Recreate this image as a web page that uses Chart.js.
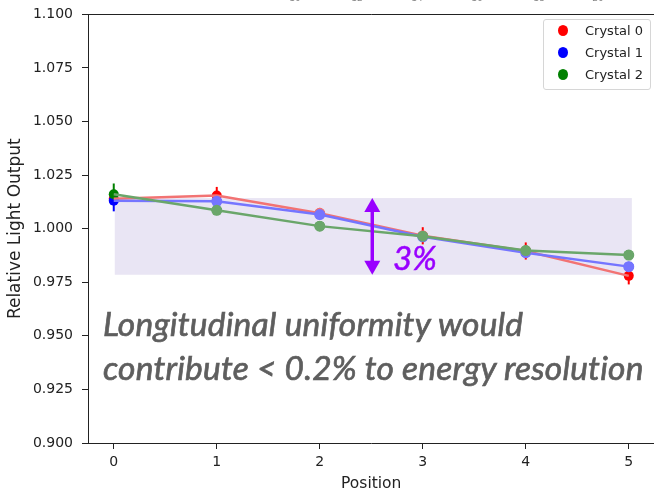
<!DOCTYPE html>
<html>
<head>
<meta charset="utf-8">
<script src="https://cdn.jsdelivr.net/npm/chart.js@4.4.1/dist/chart.umd.min.js"></script>
<style>
  html,body{margin:0;padding:0;background:#fff;}
  body{width:654px;height:498px;overflow:hidden;position:relative;}
  #wrap{position:absolute;left:0;top:-3px;width:660px;height:501px;}
  .cover{position:absolute;left:0;top:0;width:86px;height:7px;background:#fff;}
  .legend{position:absolute;left:543px;top:19px;width:106px;height:69px;border:1px solid #d6d6d6;border-radius:3px;background:rgba(255,255,255,0.85);font-family:"DejaVu Sans",sans-serif;font-size:13px;color:#222;}
  .legend .row{position:absolute;left:0;height:16px;line-height:16px;}
  .legend .dot{position:absolute;left:14px;top:2px;width:10px;height:11px;border-radius:50%;}
  .legend .lab{position:absolute;left:41px;top:0;white-space:nowrap;}
  .big{position:absolute;left:103px;top:301px;font-family:Lato,sans-serif;font-style:italic;font-size:33.5px;line-height:44px;letter-spacing:0.2px;color:#5e5e5e;-webkit-text-stroke:0.7px #5e5e5e;white-space:nowrap;}
  .pct{position:absolute;left:393px;top:241px;font-family:Lato,sans-serif;font-style:italic;font-size:33px;line-height:32px;color:#9900ff;-webkit-text-stroke:0.5px #9900ff;white-space:nowrap;}
  .toplab{position:absolute;top:-7px;font-family:"DejaVu Sans",sans-serif;font-size:9px;color:#888;transform:translateX(-50%);}
</style>
</head>
<body>
<div id="wrap"><canvas id="c"></canvas></div>
<div class="cover"></div>
<div class="legend" id="legend"></div>
<div class="pct">3%</div>
<div class="big" id="big">Longitudinal uniformity would<br>contribute &lt; 0.2% to energy resolution</div>
<div id="toplabs"></div>
<script>
// ---- data ----
const positions = [0, 1, 2, 3, 4, 5];
const seriesNames = ["Crystal 0", "Crystal 1", "Crystal 2"];
const crystal0 = [1.0140, 1.0155, 1.0072, 0.9967, 0.9896, 0.9780];
const crystal1 = [1.0131, 1.0128, 1.0066, 0.9962, 0.9888, 0.9823];
const crystal2 = [1.0161, 1.0086, 1.0012, 0.9965, 0.9898, 0.9877];
const err0 = [0.002, 0.004, 0.0025, 0.004, 0.004, 0.004];
const err1 = [0.005, 0.002, 0.002, 0.002, 0.002, 0.002];
const err2 = [0.005, 0.002, 0.002, 0.002, 0.002, 0.002];
const xTicks = [0, 1, 2, 3, 4, 5];
const yTicks = [0.900, 0.925, 0.950, 0.975, 1.000, 1.025, 1.050, 1.075, 1.100];
const bandX = [0.01, 5.03];
const bandY = [0.9785, 1.0143];
const arrowX = 2.51;
const topStrayLabels = ["10", "12", "14", "16", "18", "20"];
const topStrayX = [295, 357, 417, 477, 539, 598];

const fullColors = ["#ff0000", "#0000ff", "#008000"];
const lightColors = ["#f27373", "#7575ff", "#6aa66a"];
const paleRadius = [
  [0, 0, 5.5, 5.5, 5.5, 0],
  [0, 5.5, 5.5, 5.5, 5.5, 5.5],
  [0, 5.5, 5.5, 5.5, 5.5, 5.5]
];
const values = [crystal0, crystal1, crystal2];
const errors = [err0, err1, err2];

const pts = arr => positions.map((x, i) => ({x: x, y: arr[i]}));

const datasets = [];
values.forEach((v, k) => {
  datasets.push({
    label: seriesNames[k] + " err",
    data: pts(v),
    showLine: false,
    pointRadius: 5,
    pointHoverRadius: 5,
    pointBackgroundColor: fullColors[k],
    pointBorderColor: fullColors[k],
    pointBorderWidth: 0,
    borderColor: fullColors[k],
    errors: errors[k],
    isErr: true,
    order: 10 - k
  });
});
values.forEach((v, k) => {
  datasets.push({
    label: seriesNames[k],
    data: pts(v),
    showLine: true,
    borderColor: lightColors[k],
    borderWidth: 2.5,
    pointRadius: paleRadius[k],
    pointHoverRadius: 5.5,
    pointBackgroundColor: lightColors[k],
    pointBorderColor: lightColors[k],
    pointBorderWidth: 0,
    tension: 0,
    order: 5 - k
  });
});

const bandPlugin = {
  id: 'band',
  beforeDatasetsDraw(chart) {
    const {ctx, scales: {x, y}} = chart;
    const x0 = x.getPixelForValue(bandX[0]), x1 = x.getPixelForValue(bandX[1]);
    const y0 = y.getPixelForValue(bandY[1]), y1 = y.getPixelForValue(bandY[0]);
    ctx.save();
    ctx.fillStyle = '#e9e5f4';
    ctx.fillRect(x0, y0, x1 - x0, y1 - y0);
    chart.data.datasets.forEach(ds => {
      if (!ds.isErr) return;
      ctx.strokeStyle = ds.borderColor;
      ctx.lineWidth = 2;
      ds.data.forEach((p, i) => {
        const px = x.getPixelForValue(p.x);
        ctx.beginPath();
        ctx.moveTo(px, y.getPixelForValue(p.y - ds.errors[i]));
        ctx.lineTo(px, y.getPixelForValue(p.y + ds.errors[i]));
        ctx.stroke();
      });
    });
    ctx.restore();
  },
  afterDatasetsDraw(chart) {
    const {ctx, scales: {x, y}} = chart;
    const ax = x.getPixelForValue(arrowX);
    const yt = y.getPixelForValue(bandY[1]), yb = y.getPixelForValue(bandY[0]);
    const hw = 8, hh = 14;
    ctx.save();
    ctx.fillStyle = '#9900ff';
    ctx.strokeStyle = '#9900ff';
    ctx.lineWidth = 3.5;
    ctx.beginPath();
    ctx.moveTo(ax, yt + hh - 2);
    ctx.lineTo(ax, yb - hh + 2);
    ctx.stroke();
    ctx.beginPath();
    ctx.moveTo(ax, yt); ctx.lineTo(ax + hw, yt + hh); ctx.lineTo(ax - hw, yt + hh); ctx.closePath();
    ctx.fill();
    ctx.beginPath();
    ctx.moveTo(ax, yb); ctx.lineTo(ax + hw, yb - hh); ctx.lineTo(ax - hw, yb - hh); ctx.closePath();
    ctx.fill();
    ctx.restore();
  },
  afterDraw(chart) {
    const {ctx, chartArea} = chart;
    ctx.save();
    ctx.strokeStyle = '#222';
    ctx.lineWidth = 1;
    ctx.beginPath();
    ctx.moveTo(chartArea.left, Math.round(chartArea.top) + 0.5);
    ctx.lineTo(chartArea.right, Math.round(chartArea.top) + 0.5);
    ctx.stroke();
    ctx.restore();
  }
};

const tickFont = {family: "'DejaVu Sans'", size: 14};

new Chart(document.getElementById('c'), {
  type: 'line',
  data: {datasets},
  options: {
    responsive: true,
    maintainAspectRatio: false,
    animation: false,
    devicePixelRatio: 1,
    layout: {padding: {top: 9, left: 0, right: 4, bottom: 0}},
    plugins: {legend: {display: false}, tooltip: {enabled: false}},
    scales: {
      x: {
        type: 'linear',
        min: -0.25, max: 5.25,
        afterBuildTicks: s => { s.ticks = xTicks.map(v => ({value: v})); },
        afterFit: s => { s.height = 55; },
        grid: {drawOnChartArea: false, drawTicks: true, tickLength: 6, color: '#222', lineWidth: 1},
        border: {display: true, color: '#222', width: 1},
        ticks: {font: tickFont, color: '#222', padding: 5, callback: v => String(v), maxRotation: 0},
        title: {display: true, text: 'Position', font: {family: "'DejaVu Sans'", size: 15.5}, color: '#222', padding: {top: 0, bottom: 5}}
      },
      y: {
        type: 'linear',
        min: 0.9, max: 1.1,
        afterBuildTicks: s => { s.ticks = yTicks.map(v => ({value: v})); },
        afterFit: s => { s.width = 88; },
        grid: {drawOnChartArea: false, drawTicks: true, tickLength: 6, color: '#222', lineWidth: 1},
        border: {display: true, color: '#222', width: 1},
        ticks: {font: tickFont, color: '#222', padding: 9, callback: v => Number(v).toFixed(3)},
        title: {display: true, text: 'Relative Light Output', font: {family: "'DejaVu Sans'", size: 17}, color: '#222', padding: {top: 5, bottom: 0}}
      }
    }
  },
  plugins: [bandPlugin]
});

const leg = document.getElementById('legend');
seriesNames.forEach((n, k) => {
  const r = document.createElement('div');
  r.className = 'row';
  r.style.top = (3 + k * 22) + 'px';
  r.style.width = '100%';
  r.innerHTML = '<span class="dot" style="background:' + fullColors[k] + '"></span><span class="lab">' + n + '</span>';
  leg.appendChild(r);
});
const tl = document.getElementById('toplabs');
topStrayLabels.forEach((t, i) => {
  const s = document.createElement('span');
  s.className = 'toplab';
  s.style.left = topStrayX[i] + 'px';
  s.textContent = t;
  tl.appendChild(s);
});
</script>
</body>
</html>
